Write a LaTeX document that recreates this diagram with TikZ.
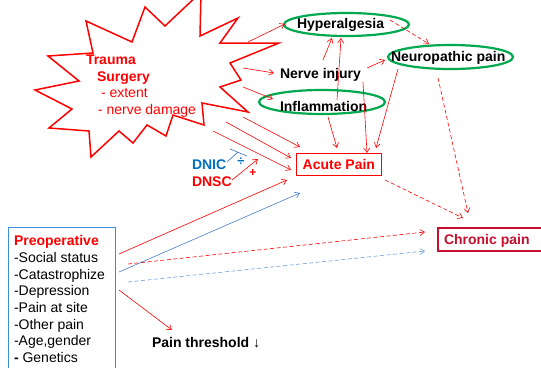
\documentclass[tikz,border=0pt]{standalone}
\usepackage{fontspec}
\setmainfont{Liberation Sans}
\usetikzlibrary{arrows.meta,shapes.geometric}
\definecolor{pred}{HTML}{FF0000}
\definecolor{pgreen}{HTML}{00A850}
\definecolor{pblue}{HTML}{0070C0}
\definecolor{lblue}{HTML}{4A7FC8}
\definecolor{dblue}{HTML}{6E9FDA}
\definecolor{boxblue}{HTML}{3D8FDB}
\definecolor{cred}{HTML}{C8102E}
\begin{document}
\begin{tikzpicture}[x=1pt,y=-1pt,
  every node/.style={inner sep=0pt, outer sep=0pt},
  txt/.style={anchor=base west, font=\fontsize{14}{16.7}\selectfont},
  btxt/.style={txt, font=\fontsize{14}{16.7}\selectfont\bfseries},
  ell/.style={ellipse, draw=pgreen, line width=2.2pt},
  arr/.style={draw=pred, line width=0.6pt, -{Straight Barb[length=4.5pt,width=6pt]}},
  darr/.style={arr, dash pattern=on 4pt off 2.5pt},
  barr/.style={arr, draw=lblue},
  bdarr/.style={darr, draw=dblue}]
\useasboundingbox (0,0) rectangle (541,367);
\fill[white] (0,0) rectangle (541,367);

% starburst
\draw[pred, line width=1.5pt, line join=miter]
  (35,90) -- (79,81) -- (48,56) -- (93,53) -- (86,21) -- (132,42) -- (145,7)
  -- (165,26) -- (201,-8) -- (200,36) -- (238,18) -- (220,43) -- (279,43)
  -- (230,63) -- (241,80) -- (220,87) -- (248,112) -- (202,103) -- (204,125)
  -- (173,115) -- (166,136) -- (147,125) -- (133,143) -- (119,131) -- (91,157)
  -- (89,131) -- (49,128) -- (72,109) -- cycle;
\node[btxt, text=pred] (trauma) at (86,64) {Trauma};
\node[btxt, text=pred] (surgery) at (97,81) {Surgery};
\node[txt, text=pred] (extent) at (101,97.5) {- extent};
\node[txt, text=pred] (nervedmg) at (98,114) {- nerve damage};

% ellipses
\node[ell, minimum width=125pt, minimum height=23pt] (hyper) at (346.5,24.5) {};
\node[ell, minimum width=125pt, minimum height=24pt] (neuro) at (450.5,57) {};
\node[ell, minimum width=126pt, minimum height=24pt] (inflam) at (322,102) {};
\node[btxt] (hypert) at (297,28.5) {Hyperalgesia};
\node[btxt] (neurot) at (391,61) {Neuropathic pain};
\node[btxt] (inflamt) at (280,111) {Inflammation};
\node[btxt] (nerve) at (280,78) {Nerve injury};

% boxes
\node[draw=pred, line width=0.9pt, minimum width=85pt, minimum height=22pt] (acute) at (338.5,164) {};
\node[btxt, text=pred] (acutet) at (302.7,169.5) {Acute Pain};
\node[draw=cred, line width=1.2pt, minimum width=112pt, minimum height=23pt] (chronic) at (494,239.5) {};
\node[btxt, text=cred] (chronict) at (444,244.5) {Chronic pain};
\node[draw=boxblue, line width=1pt, minimum width=107pt, minimum height=150pt] (preop) at (61.5,302) {};
\node[btxt, text=pred] (p0) at (14,245.7) {Preoperative};
\node[txt] (p1) at (14,262.4) {-Social status};
\node[txt] (p2) at (14,279.1) {-Catastrophize};
\node[txt] (p3) at (14,295.8) {-Depression};
\node[txt] (p4) at (14,312.5) {-Pain at site};
\node[txt] (p5) at (14,329.2) {-Other pain};
\node[txt] (p6) at (14,345.9) {-Age,gender};
\node[txt] (p7) at (14,362.6) {{\bfseries -} Genetics};
\node[btxt] (thresh) at (152,347.5) {Pain threshold ↓};
\node[btxt, text=pblue] (dnic) at (192,169.3) {DNIC};
\node[btxt, text=pred] (dnsc) at (192,186) {DNSC};
\node[font=\fontsize{13}{15}\selectfont\bfseries, text=pblue] (divsign) at (241,162) {÷};
\node[font=\fontsize{12}{14}\selectfont\bfseries, text=pred] (plus) at (253,173) {+};

% connector end points
\coordinate (s1) at (248,42);   \coordinate (hypW) at (285,24);
\coordinate (s2) at (243,68);   \coordinate (nerW) at (274,73);
\coordinate (s3) at (243,87);   \coordinate (infW) at (273,99);
\coordinate (s4) at (243,117);  \coordinate (acuA) at (300,147);
\coordinate (s5) at (226,122);  \coordinate (acuB) at (291,158);
\coordinate (s6) at (213,131);  \coordinate (acuC) at (291,170);
\coordinate (nerN) at (323,60); \coordinate (hypS1) at (332,38);
\coordinate (infN) at (337,100);\coordinate (hypS2) at (341,38);
\coordinate (nerE) at (367,68); \coordinate (neuW) at (385,60);
\coordinate (hypE) at (390,20); \coordinate (neuN) at (429,44);
\coordinate (infS) at (328,117);\coordinate (acuN1) at (337,148);
\coordinate (nerS) at (363,82); \coordinate (acuN2) at (367,153);
\coordinate (neuS) at (398,69); \coordinate (acuN3) at (376,148);
\coordinate (neuS2) at (438,78);\coordinate (chrN1) at (468,213);
\coordinate (acuE) at (385,180);\coordinate (chrN2) at (463,218);
\coordinate (pr1) at (119,254); \coordinate (acuD) at (287,180);
\coordinate (pr2) at (119,272); \coordinate (acuE2) at (300,193);
\coordinate (pr3) at (128,264); \coordinate (chrW1) at (425,232);
\coordinate (pr4) at (128,282); \coordinate (chrW2) at (425,251);
\coordinate (pr5) at (119,290); \coordinate (thrN) at (172,330);
\coordinate (dnscE) at (232,180); \coordinate (dnscT) at (258,159);
\coordinate (dnicE) at (227,162); \coordinate (dnicT) at (238,152);
\coordinate (barA) at (230,149); \coordinate (barB) at (247,156);

% connectors
\draw[arr] (s1) -- (hypW);
\draw[arr] (s2) -- (nerW);
\draw[arr] (s3) -- (infW);
\draw[arr] (s4) -- (acuA);
\draw[arr] (s5) -- (acuB);
\draw[arr] (s6) -- (acuC);
\draw[arr] (nerN) -- (hypS1);
\draw[arr] (infN) -- (hypS2);
\draw[arr] (nerE) -- (neuW);
\draw[darr] (hypE) -- (neuN);
\draw[arr] (infS) -- (acuN1);
\draw[arr] (nerS) -- (acuN2);
\draw[arr] (neuS) -- (acuN3);
\draw[darr] (neuS2) -- (chrN1);
\draw[darr] (acuE) -- (chrN2);
\draw[arr] (pr1) -- (acuD);
\draw[barr] (pr2) -- (acuE2);
\draw[darr] (pr3) -- (chrW1);
\draw[bdarr] (pr4) -- (chrW2);
\draw[arr] (pr5) -- (thrN);
\draw[arr] (dnscE) -- (dnscT);
\draw[draw=lblue, line width=0.7pt] (dnicE) -- (dnicT);
\draw[draw=lblue, line width=0.7pt] (barA) -- (barB);
\end{tikzpicture}
\end{document}
